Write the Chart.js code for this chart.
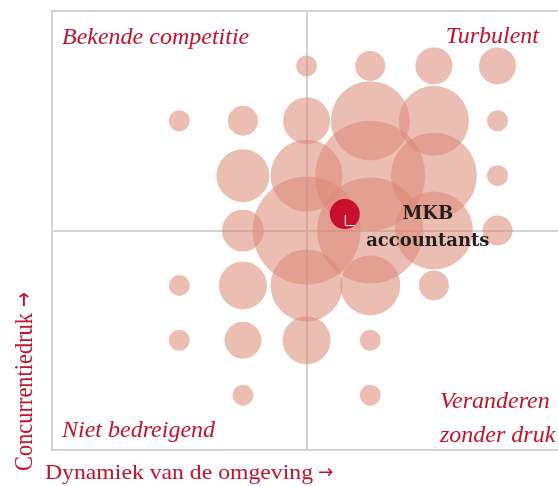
<html lang="nl">
<head>
<meta charset="UTF-8">
<title>Concurrentiedruk en dynamiek</title>
<script src="https://cdn.jsdelivr.net/npm/chart.js"></script>
<style>
  body { margin: 0; background: #ffffff; }
  canvas { display: block; }
</style>
</head>
<body>
<canvas id="chart" width="558" height="486"></canvas>
<script>
// kolommen (dynamiek) en rijen (concurrentiedruk)
const columns = [1, 2, 3, 4, 5, 6];
const rows = [7, 6, 5, 4, 3, 2, 1];
// straal van elke bel per rij (boven naar onder), 0 = geen bel
const sizes = [
  [0,    0,    10.5, 15,   18.5, 18.5],
  [10.5, 15,   23.5, 39.5, 35,   10.5],
  [0,    26.5, 36,   55,   43,   10.5],
  [0,    21,   54,   53,   39,   15],
  [10.5, 24,   36,   30,   15,   0],
  [10.5, 18.5, 24,   10.5, 0,    0],
  [0,    10.5, 0,    10.5, 0,    0]
];
const mkbX = 3.6;
const mkbY = 4.3;
const mkbSize = 15;
const quadrantLabels = ['Bekende competitie', 'Turbulent', 'Niet bedreigend', 'Veranderen', 'zonder druk'];

const red = '#c8102e';
const lineGray = '#d3d3d3';

let bubbles = [];
rows.forEach(function(row, i) {
    columns.forEach(function(col, j) {
        if (sizes[i][j] > 0) bubbles.push({ x: col, y: row, r: sizes[i][j] });
    });
});

// tekst met pijl, uitgerekt tot de gewenste breedte
function arrowText(ctx, text, x, y, width, stretch, gap) {
    ctx.save();
    ctx.translate(x, y);
    ctx.font = '21px "Liberation Serif"';
    const w = ctx.measureText(text).width;
    ctx.scale(width / w, stretch);
    ctx.fillText(text, 0, 0);
    ctx.restore();
    ctx.save();
    ctx.translate(x + width + gap, y);
    ctx.font = '19px "DejaVu Sans"';
    ctx.scale(0.95, stretch);
    ctx.fillText('\u2192', 0, -1);
    ctx.restore();
}

const textPlugin = {
    id: 'texts',
    afterDatasetsDraw(chart) {
        const ctx = chart.ctx;
        // wit hoekje in de MKB-stip
        const p = chart.getDatasetMeta(0).data[0];
        ctx.save();
        ctx.strokeStyle = '#ffffff';
        ctx.lineWidth = 1;
        ctx.beginPath();
        ctx.moveTo(p.x + 0.5, p.y + 1);
        ctx.lineTo(p.x + 0.5, p.y + 11.5);
        ctx.lineTo(p.x + 10, p.y + 11.5);
        ctx.stroke();
        ctx.restore();
    },
    afterDraw(chart) {
        const ctx = chart.ctx;
        const a = chart.chartArea;
        const p = chart.getDatasetMeta(0).data[0];
        ctx.save();
        ctx.fillStyle = red;
        ctx.font = 'italic 24px "Liberation Serif"';
        ctx.textBaseline = 'alphabetic';
        ctx.textAlign = 'left';
        ctx.fillText(quadrantLabels[0], a.left + 10, a.top + 33);
        ctx.fillText(quadrantLabels[2], a.left + 10, a.bottom - 13);
        ctx.fillText(quadrantLabels[3], 440, a.bottom - 42);
        ctx.fillText(quadrantLabels[4], 440, a.bottom - 8);
        ctx.textAlign = 'right';
        ctx.fillText(quadrantLabels[1], a.right - 19, a.top + 32);

        // MKB label
        ctx.fillStyle = '#231f20';
        ctx.font = 'bold 18px "DejaVu Serif"';
        ctx.textAlign = 'center';
        ctx.fillText('MKB', p.x + 83, p.y + 5);
        ctx.fillText('accountants', p.x + 83, p.y + 32);

        // astitels
        ctx.fillStyle = red;
        ctx.textAlign = 'left';
        arrowText(ctx, 'Dynamiek van de omgeving', 45, 479, 268, 1, 5);
        ctx.translate(32, 471);
        ctx.rotate(-Math.PI / 2);
        arrowText(ctx, 'Concurrentiedruk', 0, 0, 158, 1.22, 6);
        ctx.restore();
    }
};

new Chart(document.getElementById('chart'), {
    type: 'bubble',
    data: {
        datasets: [{
            data: [{ x: mkbX, y: mkbY, r: mkbSize }],
            backgroundColor: red,
            borderWidth: 0
        }, {
            data: bubbles,
            backgroundColor: 'rgba(220, 135, 115, 0.55)',
            borderWidth: 0,
            hoverBorderWidth: 0
        }]
    },
    options: {
        responsive: false,
        animation: false,
        events: [],
        layout: { autoPadding: false, padding: { left: 52, top: 11, right: 0, bottom: 36 } },
        plugins: { legend: { display: false }, tooltip: { enabled: false } },
        scales: {
            x: {
                type: 'linear', min: -1, max: 6.95, z: 1,
                afterBuildTicks: function(scale) { scale.ticks = [{ value: 3 }]; },
                ticks: { display: false },
                grid: { color: lineGray, lineWidth: 2, drawTicks: false },
                border: { display: true, color: lineGray, width: 2 }
            },
            y: {
                type: 'linear', min: 0, max: 8, z: 1,
                afterBuildTicks: function(scale) { scale.ticks = [{ value: 4 }, { value: 8 }]; },
                ticks: { display: false },
                grid: { color: lineGray, lineWidth: 2, drawTicks: false },
                border: { display: true, color: lineGray, width: 2 }
            }
        }
    },
    plugins: [textPlugin]
});
</script>
</body>
</html>
